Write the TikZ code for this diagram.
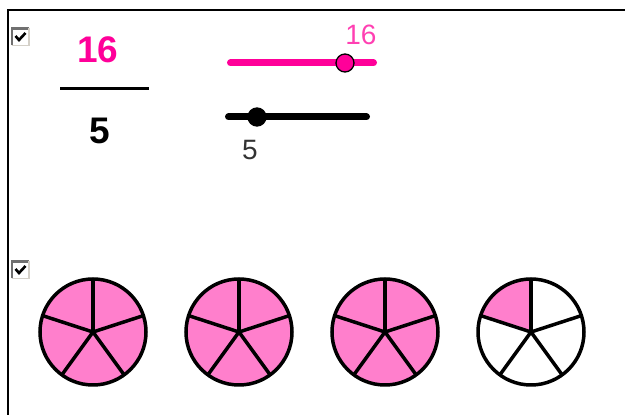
\documentclass[tikz,border=0pt]{standalone}
\usepackage{fontspec}
\setmainfont{Liberation Sans}
\usetikzlibrary{positioning}
\definecolor{GeoMagenta}{HTML}{FF0099}
\definecolor{GeoPink}{HTML}{FF7FCC}
\definecolor{GeoShadow}{HTML}{707070}
\definecolor{GeoLight}{HTML}{D4D0C8}

\begin{document}
\begin{tikzpicture}[
  x=1pt,
  y=1pt,
  frame/.style={
    draw=black,
    line width=2pt
  },
  bignum/.style={
    inner sep=0pt,
    font=\bfseries\fontsize{37}{37}\selectfont
  },
  slidertext/.style={
    inner sep=0pt,
    font=\fontsize{28}{28}\selectfont
  },
  fracbar/.style={
    draw=black,
    line width=3pt
  },
  track/.style={
    line width=7pt,
    line cap=round
  },
  knob/.style={
    circle,
    draw=black,
    line width=1.3pt,
    minimum size=18pt,
    inner sep=0pt
  },
  checkbox/.style={
    fill=white,
    minimum size=17pt,
    inner sep=0pt,
    outer sep=0pt
  },
  pie/.style={
    circle,
    draw=black,
    line width=3.5pt,
    minimum size=106pt,
    inner sep=0pt,
    outer sep=0pt
  },
  spoke/.style={
    draw=black,
    line width=3.5pt
  },
  wedge/.style={
    fill=GeoPink
  }
]

\useasboundingbox (0,0) rectangle (625,415);

% frame
\draw[frame] (8,0) -- (8,405) -- (625,405);

% check boxes
\foreach \cy/\nm in {378/fracBox,145/pieBox} {
  \node[checkbox] (\nm) at (20.5,\cy) {};
  \draw[GeoShadow,line width=2.2pt] (\nm.south west) -- (\nm.north west) -- (\nm.north east);
  \draw[GeoLight,line width=1.8pt] (\nm.north east) -- (\nm.south east) -- (\nm.south west);
  \draw[line width=2.6pt] ([shift={(-5,1)}]\nm.center) -- ([shift={(-1.5,-3)}]\nm.center)
    -- ([shift={(5,4)}]\nm.center);
}

% fraction
\node[bignum,text=GeoMagenta] (numer) at (98,365) {16};
\coordinate (barL) at (60,326);
\coordinate (barR) at (149,326);
\draw[fracbar] (barL) -- (barR);
\node[bignum] (denom) at (100,284) {5};

% sliders
\coordinate (numStart) at (230.5,352);
\coordinate (numEnd) at (373.5,352);
\draw[track,GeoMagenta] (numStart) -- (numEnd);
\node[knob,fill=GeoMagenta] (numKnob) at (345,352) {};
\node[slidertext,text=GeoMagenta!75] (numVal) at (361,380) {16};

\coordinate (denStart) at (228.5,298);
\coordinate (denEnd) at (366.5,298);
\draw[track,black] (denStart) -- (denEnd);
\node[knob,fill=black] (denKnob) at (257,298) {};
\node[slidertext,text=black!80] (denVal) at (250,265) {5};

% pies
\foreach \i/\cx/\n in {1/93/5,2/239/5,3/385/5,4/531/1} {
  \coordinate (c\i) at (\cx,83);
  \foreach \k in {1,...,\n} {
    \pgfmathsetmacro\sa{90+72*(\k-1)}
    \fill[wedge] (c\i) -- ++(\sa:53) arc[start angle=\sa, delta angle=72, radius=53] -- cycle;
  }
  \node[pie] (pie\i) at (c\i) {};
  \foreach \a in {18,90,162,234,306}
    \draw[spoke] (pie\i.center) -- (pie\i.\a);
}

\end{tikzpicture}
\end{document}
